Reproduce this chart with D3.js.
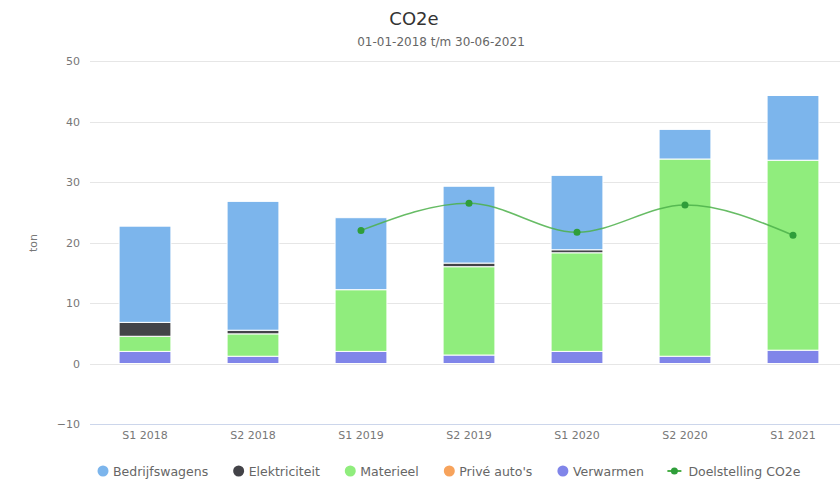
<!DOCTYPE html>
<html>
<head>
<meta charset="utf-8">
<script src="https://cdn.jsdelivr.net/npm/d3@7"></script>
<style>
html,body{margin:0;padding:0;background:#fff;}
svg{display:block;font-family:"DejaVu Sans",Verdana,sans-serif;}
</style>
</head>
<body>
<svg id="chart" width="840" height="483"></svg>
<script>
const categories = ["S1 2018","S2 2018","S1 2019","S2 2019","S1 2020","S2 2020","S1 2021"];
const bedrijfswagens = [15.9, 21.3, 11.9, 12.7, 12.3, 4.9, 10.7];
const elektriciteit  = [2.3, 0.6, 0, 0.6, 0.5, 0, 0];
const materieel      = [2.5, 3.7, 10.2, 14.6, 16.3, 32.6, 31.4];
const priveAutos     = [0, 0, 0, 0, 0, 0, 0];
const verwarmen      = [2.0, 1.2, 2.0, 1.4, 2.0, 1.2, 2.2];
const doelstelling   = [null, null, 22.0, 26.5, 21.7, 26.2, 21.2];
const yTicks = [-10, 0, 10, 20, 30, 40, 50];

const seriesNames = ["Bedrijfswagens","Elektriciteit","Materieel","Privé auto's","Verwarmen"];
const seriesData = [bedrijfswagens, elektriciteit, materieel, priveAutos, verwarmen];
const colors = {"Bedrijfswagens":"#7cb5ec","Elektriciteit":"#434348","Materieel":"#90ed7d","Privé auto's":"#f7a35c","Verwarmen":"#8085e9"};
const lineColor = "#4cb04a";

const table = categories.map((c,i)=>{
  const row = {cat:c};
  seriesNames.forEach((n,k)=>row[n]=seriesData[k][i]);
  return row;
});

const svg = d3.select("#chart");
const plotLeft = 91, plotRight = 847, plotTop = 61, plotBottom = 424;

const x = d3.scaleBand().domain(categories).range([plotLeft,plotRight]).paddingInner(0.52).paddingOuter(0.26);
const y = d3.scaleLinear().domain([-10,50]).range([plotBottom,plotTop]);

// title
svg.append("text").attr("x",414).attr("y",25).attr("text-anchor","middle")
  .attr("font-size",18).attr("fill","#333").text("CO2e");
svg.append("text").attr("x",441).attr("y",46).attr("text-anchor","middle")
  .attr("font-size",12).attr("fill","#666").text("01-01-2018 t/m 30-06-2021");

// gridlines
svg.append("g").selectAll("line").data(yTicks).join("line")
  .attr("x1",plotLeft-1).attr("x2",840).attr("y1",d=>Math.round(y(d))+0.5).attr("y2",d=>Math.round(y(d))+0.5)
  .attr("stroke",d=>d===-10?"#ccd6eb":"#e6e6e6").attr("stroke-width",1);

// y axis labels
const yAxis = d3.axisLeft(y).tickValues(yTicks).tickSize(0).tickPadding(0);
const gy = svg.append("g").attr("transform",`translate(${80},0)`).call(yAxis);
gy.select(".domain").remove();
gy.selectAll("text").attr("font-size",11).attr("fill","#777").attr("font-family","DejaVu Sans, sans-serif");

svg.append("text").attr("transform","translate(37,243) rotate(-90)").attr("text-anchor","middle")
  .attr("font-size",11).attr("fill","#777").text("ton");

// x axis labels
const xAxis = d3.axisBottom(x).tickSize(0).tickPadding(0);
const gx = svg.append("g").attr("transform",`translate(0,${431})`).call(xAxis);
gx.select(".domain").remove();
gx.selectAll("text").attr("font-size",11).attr("fill","#777").attr("font-family","DejaVu Sans, sans-serif");

// stacks
const stackKeys = ["Verwarmen","Privé auto's","Materieel","Elektriciteit","Bedrijfswagens"];
const stacked = d3.stack().keys(stackKeys)(table);
svg.append("g").selectAll("g").data(stacked).join("g")
  .attr("fill",d=>colors[d.key])
  .selectAll("rect").data(d=>d.filter(p=>p[1]-p[0]>0)).join("rect")
  .attr("x",d=>x(d.data.cat)).attr("width",x.bandwidth())
  .attr("y",d=>y(d[1])).attr("height",d=>y(d[0])-y(d[1]))
  .attr("stroke","#fff").attr("stroke-width",1);

// line
const pts = categories.map((c,i)=>({cat:c,v:doelstelling[i]})).filter(d=>d.v!==null);
const line = d3.line().x(d=>x(d.cat)+x.bandwidth()/2).y(d=>y(d.v)).curve(d3.curveMonotoneX);
svg.append("path").datum(pts).attr("d",line).attr("fill","none")
  .attr("stroke",lineColor).attr("stroke-width",1.5).attr("opacity",0.85);
svg.append("g").selectAll("circle").data(pts).join("circle")
  .attr("cx",d=>x(d.cat)+x.bandwidth()/2).attr("cy",d=>y(d.v)).attr("r",3.5)
  .attr("fill","#2f9e3a");

// legend
const legendItems = seriesNames.concat(["Doelstelling CO2e"]);
let lx = 103;
const ly = 471;
const lg = svg.append("g");
legendItems.forEach(name=>{
  const isLine = name==="Doelstelling CO2e";
  if(isLine){
    lg.append("line").attr("x1",lx-7).attr("x2",lx+7).attr("y1",ly).attr("y2",ly)
      .attr("stroke",lineColor).attr("stroke-width",2);
    lg.append("circle").attr("cx",lx).attr("cy",ly).attr("r",3.5).attr("fill","#2f9e3a");
  } else {
    lg.append("circle").attr("cx",lx).attr("cy",ly).attr("r",5.5).attr("fill",colors[name]);
  }
  const t = lg.append("text").attr("x",lx+(isLine?14:10)).attr("y",ly+4.5)
    .attr("font-size",12.5).attr("fill","#666").text(name);
  const w = t.node().getComputedTextLength();
  lx = lx + (isLine?14:10) + w + 30.5;
});
</script>
</body>
</html>
